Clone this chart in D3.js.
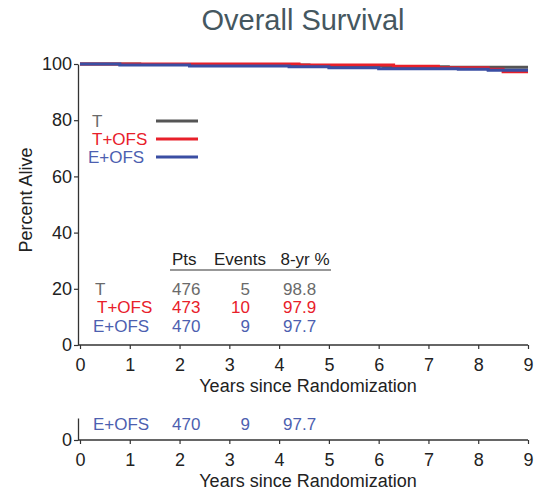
<!DOCTYPE html>
<html>
<head>
<meta charset="utf-8">
<script src="https://cdn.jsdelivr.net/npm/d3@7"></script>
<style>
  html, body { margin: 0; padding: 0; background: #fff; }
  svg { display: block; font-family: "Liberation Sans", Arial, sans-serif; }
</style>
</head>
<body>
<svg id="chart" width="538" height="492"></svg>
<script>
// Kaplan-Meier step curves: event times (years) and percent alive after each step
const groups = ["T", "T+OFS", "E+OFS"];
const tTimes    = [0, 1.2, 2.6, 4.6, 6.1, 7.4, 9];
const tSurv     = [100, 99.8, 99.6, 99.3, 99.0, 98.8, 98.8];
const tofsTimes = [0, 4.4, 6.3, 7.2, 8.2, 8.5, 9];
const tofsSurv  = [100, 99.6, 99.2, 98.7, 98.1, 97.2, 97.2];
const eofsTimes = [0, 0.8, 2.2, 4.2, 5.0, 6.0, 7.6, 8.2, 9];
const eofsSurv  = [100, 99.6, 99.3, 99.0, 98.7, 98.3, 98.1, 97.8, 97.8];

// Summary table
const tableHeaders = ["Pts", "Events", "8-yr %"];
const patients = [476, 473, 470];
const events = [5, 10, 9];
const eightYear = ["98.8", "97.9", "97.7"];

const xTicks = [0, 1, 2, 3, 4, 5, 6, 7, 8, 9];
const yTicks = [0, 20, 40, 60, 80, 100];

const lineColors = ["#555555", "#e8202a", "#3a4ea3"];
const textColors = ["#6a6a6a", "#e8202a", "#4d5fb0"];

const FS = 17;       // body text size
const TICK_FS = 18;  // tick label size

const svg = d3.select("#chart");

const x = d3.scaleLinear().domain([0, 9]).range([80, 528]);
const y = d3.scaleLinear().domain([0, 100]).range([345, 64]);

// Title
svg.append("text")
  .attr("x", 303).attr("y", 30)
  .attr("text-anchor", "middle")
  .attr("font-size", 29)
  .attr("fill", "#45575f")
  .text("Overall Survival");

// Axes
const yAxis = d3.axisLeft(y).tickValues(yTicks).tickSize(4).tickPadding(2).tickSizeOuter(0);
const xAxis = d3.axisBottom(x).tickValues(xTicks).tickSize(4).tickPadding(9).tickSizeOuter(0);

function styleAxis(g) {
  g.select(".domain").attr("stroke", "#333").attr("stroke-width", 1.3);
  g.selectAll(".tick line").attr("stroke", "#333").attr("stroke-width", 1.2);
  g.selectAll(".tick text").attr("font-size", TICK_FS).attr("fill", "#222")
    .attr("font-family", "Liberation Sans, Arial, sans-serif");
}

svg.append("g").attr("transform", "translate(78,0)").call(yAxis).call(styleAxis);
svg.append("g").attr("transform", "translate(0,345)").call(xAxis).call(styleAxis)
  .select(".domain").attr("d", "M78,0H528");

svg.append("text")
  .attr("transform", "translate(32,200) rotate(-90)")
  .attr("text-anchor", "middle")
  .attr("font-size", 18).attr("fill", "#222")
  .text("Percent Alive");

svg.append("text")
  .attr("x", 308).attr("y", 392)
  .attr("text-anchor", "middle")
  .attr("font-size", 18).attr("fill", "#222")
  .text("Years since Randomization");

// Survival curves
const series = [
  { times: tTimes, surv: tSurv },
  { times: tofsTimes, surv: tofsSurv },
  { times: eofsTimes, surv: eofsSurv }
];
const line = d3.line().x(d => x(d[0])).y(d => y(d[1])).curve(d3.curveStepAfter);
series.forEach((s, i) => {
  const pts = s.times.map((t, j) => [t, s.surv[j]]);
  svg.append("path")
    .attr("d", line(pts))
    .attr("fill", "none")
    .attr("stroke", lineColors[i])
    .attr("stroke-width", 3);
});

// Legend
const legendY = [121, 139, 157];
const legendX = [92, 92, 88];
groups.forEach((g, i) => {
  svg.append("text")
    .attr("x", legendX[i]).attr("y", legendY[i] + 6)
    .attr("font-size", FS).attr("fill", textColors[i])
    .text(g);
  svg.append("line")
    .attr("x1", 156).attr("x2", 198)
    .attr("y1", legendY[i]).attr("y2", legendY[i])
    .attr("stroke", lineColors[i]).attr("stroke-width", 3);
});

// Table
const colX = [172, 250, 283];
svg.append("text").attr("x", 172).attr("y", 265).attr("font-size", FS).attr("fill", "#222").text(tableHeaders[0]);
svg.append("text").attr("x", 240).attr("y", 265).attr("font-size", FS).attr("fill", "#222").attr("text-anchor", "middle").text(tableHeaders[1]);
svg.append("text").attr("x", 305).attr("y", 265).attr("font-size", FS).attr("fill", "#222").attr("text-anchor", "middle").text(tableHeaders[2]);
svg.append("line").attr("x1", 170).attr("x2", 331).attr("y1", 270).attr("y2", 270)
  .attr("stroke", "#333").attr("stroke-width", 1.2);

function tableRow(i, yPos) {
  svg.append("text").attr("x", [95, 97, 93][i]).attr("y", yPos).attr("font-size", FS).attr("fill", textColors[i]).text(groups[i]);
  svg.append("text").attr("x", colX[0]).attr("y", yPos).attr("font-size", FS).attr("fill", textColors[i]).text(patients[i]);
  svg.append("text").attr("x", colX[1]).attr("y", yPos).attr("font-size", FS).attr("fill", textColors[i]).attr("text-anchor", "end").text(events[i]);
  svg.append("text").attr("x", colX[2]).attr("y", yPos).attr("font-size", FS).attr("fill", textColors[i]).text(eightYear[i]);
}
[295, 313, 332].forEach((yy, i) => tableRow(i, yy));

// Lower panel repeating the E+OFS row
const y2 = d3.scaleLinear().domain([0, 1]).range([440, 418]);
svg.append("g").attr("transform", "translate(78,0)")
  .call(d3.axisLeft(y2).tickValues([0]).tickFormat(d3.format("d")).tickSize(4).tickPadding(2).tickSizeOuter(0))
  .call(styleAxis);
svg.append("g").attr("transform", "translate(0,440)").call(xAxis).call(styleAxis)
  .select(".domain").attr("d", "M78,0H528");
tableRow(2, 430);
svg.append("text")
  .attr("x", 308).attr("y", 487)
  .attr("text-anchor", "middle")
  .attr("font-size", 18).attr("fill", "#222")
  .text("Years since Randomization");
</script>
</body>
</html>
